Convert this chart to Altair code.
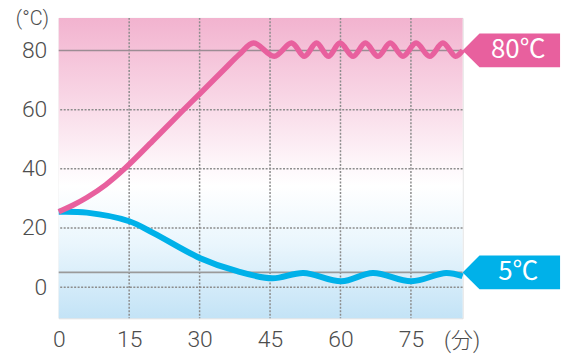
import altair as alt
import pandas as pd

# ---- data ----
pink_t = [0, 3, 6, 10, 14, 20, 26.3, 30, 35, 38.5, 41.5, 45.9, 49.6, 52.3, 54.9, 57.4,
          59.9, 62.7, 65.3, 68.0, 70.6, 73.3, 76.1, 79.0, 81.8, 84.5, 86]
pink_v = [25.5, 27.7, 30.3, 34.6, 40, 49.4, 59.5, 65.3, 73.2, 78.7, 82.5, 78, 82.5, 78, 82.5, 78,
          82.5, 78, 82.5, 78, 82.5, 78, 82.5, 78, 82.5, 78, 80]

blue_t = [0, 6, 15, 20.3, 30, 38, 45.5, 52.1, 60.2, 66.9, 75.1, 82.5, 86]
blue_v = [25.5, 25.2, 22.3, 18.2, 9.9, 5.4, 3.0, 4.8, 2.0, 4.8, 2.0, 4.8, 3.7]

x_ticks = [0, 15, 30, 45, 60, 75]
y_ticks = [0, 20, 40, 60, 80]
x_grid = [15, 30, 45, 60, 75]
y_grid = [0, 20, 40, 60]
ref_values = [80, 5]
ref_labels = ["80℃", "5℃"]
ref_colors = ["#e8609e", "#00b1e9"]
ref_line_colors = ["#9c8c94", "#9a9a9a"]
unit_y = "(°C)"
unit_x = "(分)"

X_DOM = [0, 86]
Y_DOM = [-10.5, 91]
FONT = "Roboto, Noto Sans CJK JP"

xs = alt.Scale(domain=X_DOM, nice=False, zero=False)
ys = alt.Scale(domain=Y_DOM, nice=False, zero=False)

bg_df = pd.DataFrame({"x0": [X_DOM[0]], "x1": [X_DOM[1]], "y0": [Y_DOM[0]], "y1": [Y_DOM[1]]})
background = alt.Chart(bg_df).mark_rect(
    color=alt.Gradient(
        gradient="linear",
        stops=[
            alt.GradientStop(color="#f2b3cf", offset=0),
            alt.GradientStop(color="#f8d4e4", offset=0.25),
            alt.GradientStop(color="#fef8fb", offset=0.5),
            alt.GradientStop(color="#ffffff", offset=0.56),
            alt.GradientStop(color="#eaf6fd", offset=0.75),
            alt.GradientStop(color="#c3e3f6", offset=1),
        ],
        x1=0, x2=0, y1=0, y2=1,
    )
).encode(
    x=alt.X("x0:Q", scale=xs,
            axis=alt.Axis(values=x_ticks, title=unit_x, grid=False,
                          ticks=False, domain=False, labelFont=FONT, labelFontSize=23,
                          labelFontWeight=300, labelFlush=False,
                          labelColor="#4d4d4d", labelPadding=10,
                          titleFont=FONT, titleFontSize=22, titleFontWeight=300,
                          titleColor="#4d4d4d", titleX=405, titleY=22,
                          titleBaseline="middle", titleAlign="center")),
    x2="x1:Q",
    y=alt.Y("y0:Q", scale=ys,
            axis=alt.Axis(values=y_ticks, title=unit_y, grid=False,
                          ticks=False, domain=False, labelFont=FONT, labelFontSize=23,
                          labelFontWeight=300,
                          labelColor="#4d4d4d", labelPadding=12,
                          titleFont=FONT, titleFontSize=20, titleFontWeight=300,
                          titleColor="#4d4d4d", titleAngle=0, titleX=-27, titleY=1,
                          titleBaseline="middle", titleAlign="center")),
    y2="y1:Q",
)

vgrid = alt.Chart(pd.DataFrame({"g": x_grid})).mark_rule(
    color="#8c8c8c", strokeWidth=1.5, strokeDash=[2, 1.5]).encode(x=alt.X("g:Q", scale=xs))
hgrid = alt.Chart(pd.DataFrame({"g": y_grid})).mark_rule(
    color="#8c8c8c", strokeWidth=1.5, strokeDash=[2, 1.5]).encode(y=alt.Y("g:Q", scale=ys))

ref_df = pd.DataFrame({"v": ref_values, "lc": ref_line_colors, "c": ref_colors,
                       "lab": ref_labels, "t": [X_DOM[1]] * 2})
refs = alt.Chart(ref_df).mark_rule(strokeWidth=1.6).encode(
    y=alt.Y("v:Q", scale=ys), color=alt.Color("lc:N", scale=None))

blue_df = pd.DataFrame({"t": blue_t, "v": blue_v})
pink_df = pd.DataFrame({"t": pink_t, "v": pink_v})
blue_line = alt.Chart(blue_df).mark_line(color="#00b1e9", strokeWidth=6, interpolate="catmull-rom").encode(
    x=alt.X("t:Q", scale=xs), y=alt.Y("v:Q", scale=ys))
pink_line = alt.Chart(pink_df).mark_line(color="#e8609e", strokeWidth=5.5, interpolate="catmull-rom").encode(
    x=alt.X("t:Q", scale=xs), y=alt.Y("v:Q", scale=ys))

tags = alt.Chart(ref_df).mark_point(
    shape="M0,0 L17,-17 L98,-17 L98,17 L17,17 Z", size=4, filled=True, opacity=1, strokeWidth=0
).encode(x=alt.X("t:Q", scale=xs), y=alt.Y("v:Q", scale=ys), color=alt.Color("c:N", scale=None))

tag_text = alt.Chart(ref_df).mark_text(
    color="white", font="Noto Sans CJK JP", fontSize=26, dx=56, align="center", baseline="middle"
).encode(x=alt.X("t:Q", scale=xs), y=alt.Y("v:Q", scale=ys), text="lab:N")

chart = alt.layer(background, vgrid, hgrid, refs, blue_line, pink_line, tags, tag_text).properties(
    width=406, height=302,
    autosize=alt.AutoSizeParams(type="none"),
    padding={"left": 51, "top": 9, "right": 110, "bottom": 40},
).configure_view(strokeWidth=0).configure(background="white")

chart.save("out.html", embed_options={"renderer": "svg", "actions": False})
